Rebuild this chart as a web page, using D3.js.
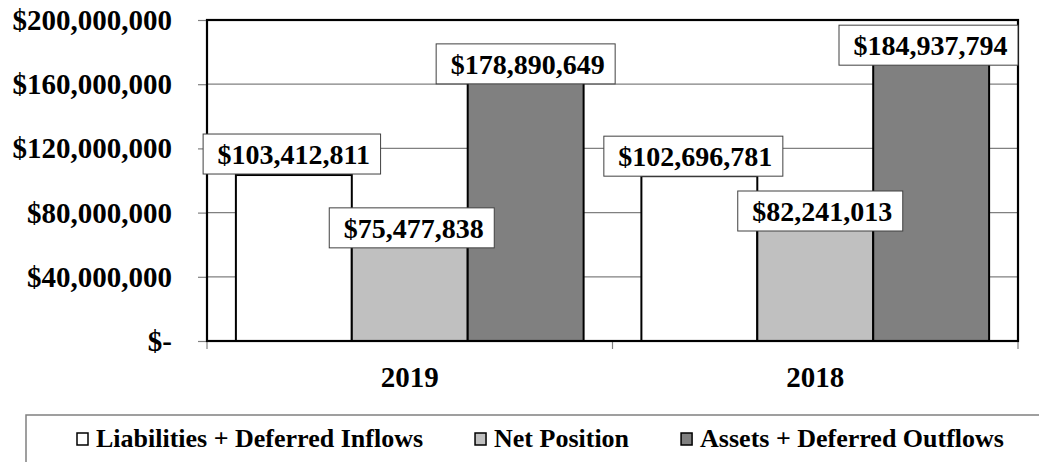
<!DOCTYPE html>
<html>
<head>
<meta charset="utf-8">
<script src="https://cdn.jsdelivr.net/npm/d3@7"></script>
<style>
    body { margin: 0; background: #fff; }
    text { font-family: 'Liberation Serif', 'Times New Roman', serif; font-weight: bold; fill: #000; }
</style>
</head>
<body>
<svg id="chart" width="1039" height="462"></svg>
<script>

// chart values
const years = ['2019', '2018'];
const seriesNames = ['Liabilities + Deferred Inflows', 'Net Position', 'Assets + Deferred Outflows'];
const liabilities = [103412811, 102696781];
const netPosition = [75477838, 82241013];
const assets = [178890649, 184937794];
const yTicks = [0, 40000000, 80000000, 120000000, 160000000, 200000000];

const seriesColors = ['#ffffff', '#c0c0c0', '#808080'];

// label nudges (Excel moves overlapping labels a bit), [dx, dy] per year per series
const labelNudge = [[[-2, -21], [2, 8], [0, 10]], [[-6, -20], [5, 2], [0, 1]]];

const margin = {left: 207, right: 21, top: 20, bottom: 121};
const width = 1039, height = 462;

const svg = d3.select('#chart');

const x0 = d3.scaleBand()
    .domain(years)
    .range([margin.left, width - margin.right])
    .paddingInner(0.1425)
    .paddingOuter(0.07125);

const x1 = d3.scaleBand()
    .domain(d3.range(seriesNames.length))
    .range([0, x0.bandwidth()]);

const y = d3.scaleLinear()
    .domain([0, 200000000])
    .range([height - margin.bottom, margin.top]);

const plotLeft = margin.left, plotRight = width - margin.right;

function money(v) {
    return v === 0 ? '$-' : '$' + d3.format(',')(v);
}

// gridlines
svg.append('g')
    .selectAll('line')
    .data(yTicks.slice(1))
    .join('line')
    .attr('x1', plotLeft)
    .attr('x2', plotRight)
    .attr('y1', d => y(d))
    .attr('y2', d => y(d))
    .attr('stroke', '#808080')
    .attr('stroke-width', 1.2);

// y axis
const yAxis = svg.append('g')
    .attr('transform', 'translate(' + plotLeft + ',0)')
    .call(d3.axisLeft(y).tickValues(yTicks).tickFormat(money).tickSize(9).tickPadding(26));
yAxis.select('.domain').remove();
yAxis.selectAll('line').attr('stroke', '#808080').attr('stroke-width', 1.2);
yAxis.selectAll('text')
    .style('font-size', '29px')
    .style('font-family', "'Liberation Serif', serif")
    .style('font-weight', 'bold')
    .attr('dy', '0.33em');

// x axis ticks between categories
const xTickPos = [plotLeft, (plotLeft + plotRight) / 2, plotRight];
svg.append('g')
    .selectAll('line')
    .data(xTickPos)
    .join('line')
    .attr('x1', d => d)
    .attr('x2', d => d)
    .attr('y1', y(0))
    .attr('y2', y(0) + 8)
    .attr('stroke', '#808080')
    .attr('stroke-width', 1.2);

svg.append('g')
    .selectAll('text')
    .data(years)
    .join('text')
    .attr('x', d => x0(d) + x0.bandwidth() / 2)
    .attr('y', 387)
    .attr('text-anchor', 'middle')
    .style('font-size', '29px')
    .text(d => d);

// bars
const rows = years.map((yr, i) => ({year: yr, values: [liabilities[i], netPosition[i], assets[i]]}));

const groups = svg.append('g')
    .selectAll('g')
    .data(rows)
    .join('g')
    .attr('transform', d => 'translate(' + x0(d.year) + ',0)');

groups.selectAll('rect')
    .data(d => d.values.map((v, j) => ({v: v, j: j})))
    .join('rect')
    .attr('x', d => x1(d.j))
    .attr('width', x1.bandwidth())
    .attr('y', d => y(d.v))
    .attr('height', d => y(0) - y(d.v))
    .attr('fill', d => seriesColors[d.j])
    .attr('stroke', '#000')
    .attr('stroke-width', 2);

// plot frame
svg.append('rect')
    .attr('x', plotLeft)
    .attr('y', margin.top)
    .attr('width', plotRight - plotLeft)
    .attr('height', y(0) - margin.top)
    .attr('fill', 'none')
    .attr('stroke', '#000')
    .attr('stroke-width', 2.2);

// value labels
const labelG = svg.append('g');
rows.forEach(function(row, i) {
    row.values.forEach(function(v, j) {
        var g = labelG.append('g');
        var t = g.append('text')
            .attr('text-anchor', 'middle')
            .style('font-size', '28px')
            .text(money(v));
        var w = t.node().getComputedTextLength() + 25;
        var h = 40;
        var cx = x0(row.year) + x1(j) + x1.bandwidth() / 2 + labelNudge[i][j][0];
        var cy = y(v) + labelNudge[i][j][1];
        if (cx + w / 2 > plotRight) cx = plotRight - w / 2;
        g.insert('rect', 'text')
            .attr('x', cx - w / 2)
            .attr('y', cy - h / 2)
            .attr('width', w)
            .attr('height', h)
            .attr('fill', '#fff')
            .attr('stroke', '#404040')
            .attr('stroke-width', 1);
        t.attr('x', cx + 2).attr('y', cy + 10);
    });
});

// legend
const legendTop = 415, legendLeft = 26;
svg.append('path')
    .attr('d', 'M' + legendLeft + ',' + (height + 2) + 'V' + legendTop + 'H' + (width + 2))
    .attr('fill', 'none')
    .attr('stroke', '#808080')
    .attr('stroke-width', 1.5);

var lx = 77;
seriesNames.forEach(function(name, j) {
    svg.append('rect')
        .attr('x', lx)
        .attr('y', 433)
        .attr('width', 11)
        .attr('height', 12)
        .attr('fill', seriesColors[j])
        .attr('stroke', '#000')
        .attr('stroke-width', 1.5);
    var t = svg.append('text')
        .attr('x', lx + 19)
        .attr('y', 447)
        .style('font-size', '26px')
        .text(name);
    lx += 19 + t.node().getComputedTextLength() + 52;
});

</script>
</body>
</html>
